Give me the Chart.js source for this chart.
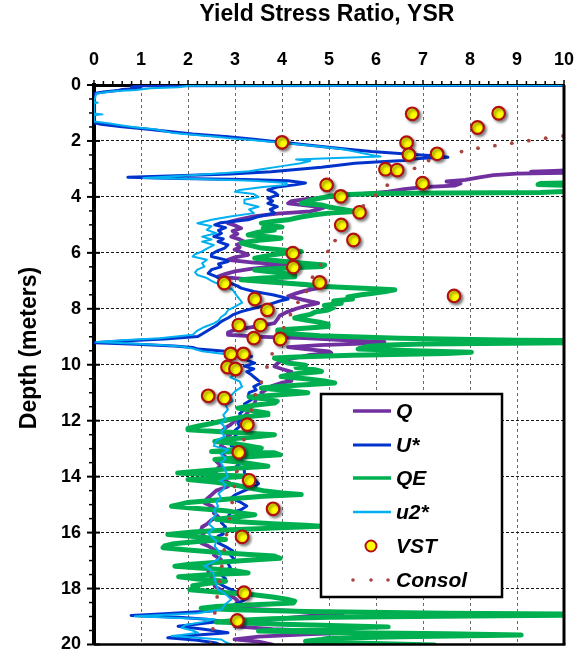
<!DOCTYPE html>
<html>
<head>
<meta charset="utf-8">
<script src="https://cdn.jsdelivr.net/npm/chart.js@4.4.1/dist/chart.umd.min.js"></script>
<style>
  html, body { margin: 0; padding: 0; background: #fff; }
  #wrap { width: 580px; height: 653px; }
</style>
</head>
<body>
<div id="wrap"><canvas id="ysrChart" width="580" height="653"></canvas></div>
<script>
// Yield stress ratio profiles vs depth (m)

const xTicks = [0, 1, 2, 3, 4, 5, 6, 7, 8, 9, 10];
const yTicks = [0, 2, 4, 6, 8, 10, 12, 14, 16, 18, 20];

// Q (purple)
const qDepth = [0, 2.95, 3.02, 3.07, 3.10, 3.13, 3.17, 3.22, 3.30, 3.39, 3.45, 3.52, 3.60, 3.65, 3.72, 3.81, 3.88, 3.95, 4.00, 4.08,
  4.15, 4.23, 4.30, 4.38, 4.45, 4.52, 4.60, 4.70, 4.80, 4.88, 4.94, 5.02, 5.12, 5.22, 5.32, 5.42, 5.52, 5.60, 5.70, 5.80,
  5.89, 5.98, 6.07, 6.16, 6.25, 6.35, 6.43, 6.50, 6.58, 6.66, 6.75, 6.85, 6.95, 7.05, 7.15, 7.26, 7.35, 7.45, 7.55, 7.62,
  7.70, 7.80, 7.90, 8.00, 8.12, 8.25, 8.38, 8.51, 8.62, 8.75, 8.85, 8.93, 9.00, 9.05, 9.12, 9.18, 9.23, 9.30, 9.37, 9.44,
  9.52, 9.58, 9.65, 9.75, 9.85, 9.95, 10.06, 10.15, 10.25, 10.35, 10.42, 10.50, 10.58, 10.65, 10.75, 10.85, 11.00, 11.10, 11.20, 11.37,
  11.50, 11.62, 11.75, 11.85, 12.00, 12.15, 12.25, 12.38, 12.50, 12.62, 12.75, 12.90, 13.00, 13.15, 13.30, 13.45, 13.60, 13.75, 13.87, 14.00,
  14.15, 14.25, 14.35, 14.50, 14.65, 14.80, 14.94, 15.05, 15.20, 15.30, 15.42, 15.55, 15.70, 15.80, 15.90, 16.00, 16.10, 16.20, 16.37, 16.50,
  16.65, 16.80, 16.96, 17.10, 17.25, 17.44, 17.60, 17.75, 17.92, 18.05, 18.20, 18.35, 18.45, 18.60, 18.72, 18.82, 18.88, 18.93, 18.98, 19.05,
  19.15, 19.25, 19.35, 19.45, 19.52, 19.58, 19.64, 19.72, 19.82, 19.90, 20.00];
const qVal = [14, 12, 10.5, 9.8, 9.3, 10.2, 9.0, 8.5, 8.2, 7.9, 7.5, 7.8, 7.67, 7.0, 6.6, 6.26, 5.8, 5.3, 5.1, 4.5,
  4.2, 4.13, 4.5, 4.9, 4.77, 4.6, 3.9, 3.4, 3.1, 2.9, 2.85, 3.0, 3.13, 2.95, 3.05, 2.92, 3.1, 3.2, 3.05, 3.1,
  2.99, 3.15, 3.28, 3.0, 2.85, 3.4, 4.27, 3.7, 3.3, 3.0, 2.8, 2.64, 3.3, 4.0, 4.5, 4.77, 4.5, 4.3, 4.13, 4.3,
  4.5, 4.77, 4.5, 4.3, 4.1, 3.95, 3.9, 3.84, 3.5, 3.0, 2.85, 2.85, 3.6, 4.48, 5.3, 6.18, 6.0, 4.8, 4.13, 4.5,
  5.0, 5.05, 4.6, 4.3, 4.0, 3.9, 3.84, 4.0, 4.2, 4.1, 4.27, 4.1, 4.2, 3.98, 3.8, 3.7, 3.56, 3.6, 3.45, 3.42,
  3.35, 3.3, 3.25, 3.2, 3.0, 2.9, 2.8, 2.71, 2.9, 2.8, 2.75, 2.7, 2.8, 2.71, 2.8, 2.6, 2.7, 2.6, 2.57, 2.7,
  2.8, 2.9, 2.85, 2.6, 2.5, 2.4, 2.35, 2.5, 2.6, 2.55, 2.64, 2.5, 2.4, 2.3, 2.28, 2.35, 2.3, 2.4, 2.28, 2.45,
  2.6, 2.55, 2.7, 2.5, 2.45, 2.43, 2.5, 2.55, 2.57, 2.7, 2.85, 3.0, 3.06, 3.0, 3.2, 4.5, 5.3, 5.26, 4.6, 4.13,
  3.6, 3.2, 3.0, 3.8, 5.0, 5.4, 4.5, 3.5, 2.99, 3.5, 3.8];

// U* (dark blue)
const uDepth = [0, 0.03, 0.07, 0.12, 0.16, 0.20, 0.25, 0.30, 1.35, 1.40, 1.49, 1.57, 1.67, 1.75, 1.85, 1.94, 2.02, 2.10, 2.20, 2.30,
  2.38, 2.45, 2.50, 2.55, 2.58, 2.62, 2.66, 2.70, 2.75, 2.80, 2.87, 2.94, 3.02, 3.10, 3.18, 3.25, 3.30, 3.34, 3.38, 3.42,
  3.50, 3.57, 3.65, 3.75, 3.85, 3.93, 4.05, 4.15, 4.23, 4.35, 4.45, 4.58, 4.70, 4.82, 4.92, 5.00, 5.10, 5.20, 5.30, 5.42,
  5.50, 5.60, 5.72, 5.83, 5.95, 6.05, 6.13, 6.25, 6.31, 6.40, 6.50, 6.60, 6.73, 6.85, 6.96, 7.08, 7.18, 7.26, 7.38, 7.50,
  7.58, 7.65, 7.72, 7.86, 7.98, 8.10, 8.22, 8.33, 8.45, 8.60, 8.75, 8.90, 8.99, 9.08, 9.15, 9.21, 9.27, 9.33, 9.38, 9.44,
  9.52, 9.60, 9.70, 9.80, 9.94, 10.05, 10.15, 10.25, 10.36, 10.50, 10.65, 10.78, 10.90, 11.00, 11.13, 11.25, 11.40, 11.50, 11.60, 11.75,
  11.90, 12.08, 12.20, 12.35, 12.45, 12.56, 12.70, 12.80, 12.90, 13.02, 13.15, 13.30, 13.45, 13.60, 13.75, 13.87, 14.00, 14.15, 14.25, 14.35,
  14.50, 14.65, 14.76, 14.90, 15.05, 15.18, 15.30, 15.45, 15.55, 15.65, 15.80, 15.95, 16.05, 16.13, 16.25, 16.37, 16.50, 16.65, 16.80, 16.96,
  17.10, 17.25, 17.38, 17.50, 17.65, 17.80, 17.95, 18.10, 18.20, 18.33, 18.50, 18.65, 18.80, 18.90, 18.96, 19.03, 19.10, 19.17, 19.25, 19.35,
  19.45, 19.52, 19.58, 19.66, 19.72, 19.76, 19.85, 19.95, 20.03];
const uVal = [14, 1.0, 0.8, 1.0, 0.6, 0.5, 0.2, 0.0, 0.0, 0.15, 0.6, 1.1, 1.65, 2.1, 2.85, 3.4, 3.84, 4.3, 4.84, 5.4,
  5.9, 6.5, 6.96, 7.4, 7.53, 7.0, 6.7, 6.6, 6.0, 5.55, 5.2, 4.84, 4.3, 3.77, 2.9, 1.6, 0.72, 1.8, 3.2, 4.13,
  4.5, 4.27, 3.9, 3.7, 3.85, 3.91, 3.7, 3.8, 3.7, 3.9, 3.75, 3.84, 3.5, 3.28, 2.7, 2.57, 2.8, 2.65, 2.71, 2.55,
  2.75, 2.64, 2.85, 2.78, 2.6, 2.5, 2.5, 2.8, 2.85, 2.65, 2.7, 2.5, 2.43, 2.6, 2.71, 2.9, 3.05, 3.13, 3.4, 3.8,
  4.0, 4.13, 3.95, 3.7, 3.4, 3.13, 2.95, 2.85, 2.71, 2.6, 2.45, 2.3, 2.21, 1.5, 0.6, 0.02, 0.9, 1.7, 2.1, 2.21,
  2.8, 3.2, 3.35, 3.2, 3.42, 3.2, 3.4, 3.25, 3.35, 3.45, 3.56, 3.4, 3.45, 3.3, 3.28, 3.35, 3.2, 3.25, 3.2, 3.1,
  3.15, 3.06, 3.1, 3.0, 3.05, 3.0, 2.9, 2.95, 2.92, 3.1, 3.2, 3.1, 3.15, 3.05, 3.2, 3.2, 3.35, 3.45, 3.5, 3.42,
  3.2, 3.0, 2.92, 3.1, 3.25, 3.13, 2.9, 2.85, 2.75, 2.71, 2.8, 2.7, 2.75, 2.64, 2.7, 2.64, 2.8, 2.95, 2.9, 2.99,
  2.85, 2.9, 2.78, 2.7, 2.8, 2.64, 2.8, 3.0, 3.1, 3.28, 3.1, 2.9, 2.5, 1.5, 0.79, 1.8, 2.4, 2.71, 2.3, 1.79,
  2.3, 2.6, 2.85, 2.2, 1.8, 1.57, 2.2, 2.6, 2.71];

// QE (green)
const qeDepth = [0, 3.40, 3.48, 3.52, 3.56, 3.60, 3.66, 3.78, 3.84, 3.86, 3.88, 3.92, 3.98, 4.05, 4.12, 4.18, 4.23, 4.29, 4.36, 4.45,
  4.52, 4.58, 4.64, 4.72, 4.82, 4.88, 4.94, 5.00, 5.08, 5.12, 5.18, 5.26, 5.36, 5.42, 5.48, 5.55, 5.65, 5.72, 5.83, 5.90,
  5.95, 6.02, 6.10, 6.19, 6.28, 6.36, 6.43, 6.49, 6.55, 6.61, 6.70, 6.78, 6.85, 6.90, 6.96, 7.05, 7.13, 7.20, 7.26, 7.32,
  7.38, 7.45, 7.50, 7.58, 7.65, 7.72, 7.80, 7.88, 7.95, 8.04, 8.12, 8.20, 8.27, 8.33, 8.40, 8.48, 8.55, 8.63, 8.70, 8.76,
  8.81, 8.88, 8.96, 9.05, 9.12, 9.17, 9.22, 9.26, 9.29, 9.35, 9.44, 9.50, 9.55, 9.60, 9.66, 9.72, 9.76, 9.85, 9.94, 10.02,
  10.10, 10.18, 10.24, 10.32, 10.42, 10.50, 10.58, 10.65, 10.72, 10.78, 10.83, 10.92, 11.00, 11.08, 11.15, 11.22, 11.30, 11.37, 11.45, 11.55,
  11.65, 11.73, 11.79, 11.88, 11.95, 12.02, 12.10, 12.20, 12.28, 12.32, 12.40, 12.50, 12.58, 12.66, 12.74, 12.82, 12.90, 12.98, 13.05, 13.10,
  13.15, 13.22, 13.30, 13.39, 13.50, 13.63, 13.70, 13.78, 13.87, 13.94, 13.99, 14.05, 14.10, 14.20, 14.30, 14.40, 14.50, 14.58, 14.64, 14.70,
  14.78, 14.85, 14.92, 15.00, 15.06, 15.14, 15.22, 15.30, 15.36, 15.45, 15.52, 15.60, 15.68, 15.74, 15.77, 15.84, 15.90, 15.98, 16.07, 16.15,
  16.25, 16.32, 16.40, 16.48, 16.54, 16.62, 16.70, 16.78, 16.84, 16.92, 17.00, 17.08, 17.14, 17.20, 17.28, 17.36, 17.44, 17.50, 17.58, 17.66,
  17.74, 17.82, 17.90, 17.98, 18.04, 18.12, 18.22, 18.30, 18.38, 18.45, 18.52, 18.58, 18.64, 18.70, 18.76, 18.82, 18.88, 18.93, 18.98, 19.03,
  19.08, 19.14, 19.20, 19.28, 19.37, 19.45, 19.52, 19.58, 19.62, 19.66, 19.72, 19.78, 19.82, 19.88, 19.95, 20.02];
const qeVal = [14, 12, 10.5, 9.5, 9.45, 10.3, 11, 10.5, 9.5, 7.5, 6.0, 5.3, 5.0, 4.8, 4.6, 4.5, 4.41, 4.84, 5.0, 5.3,
  5.55, 5.0, 4.7, 4.4, 4.13, 3.8, 3.56, 3.7, 4.0, 3.6, 3.84, 3.5, 3.28, 3.7, 3.98, 3.5, 3.13, 3.3, 3.56, 4.0,
  4.41, 4.0, 3.7, 3.42, 3.9, 4.4, 4.91, 4.85, 4.0, 3.42, 3.9, 4.27, 4.27, 3.6, 3.13, 3.8, 4.5, 4.91, 5.6, 6.4,
  6.2, 5.9, 5.69, 5.4, 5.5, 5.1, 5.26, 4.9, 5.1, 4.98, 4.7, 4.6, 4.4, 4.27, 4.5, 4.8, 4.98, 4.98, 4.4, 3.91,
  3.91, 4.1, 4.8, 6.5, 9.0, 12, 9.5, 7.0, 6.26, 5.8, 5.62, 6.8, 8.03, 7.5, 5.5, 4.3, 3.84, 4.0, 4.13, 4.5,
  4.3, 4.7, 4.84, 4.3, 3.98, 4.5, 4.9, 5.12, 4.4, 3.9, 3.56, 4.1, 4.55, 3.9, 3.3, 3.6, 3.9, 3.84, 3.4, 3.06,
  3.4, 3.7, 3.7, 3.1, 2.9, 2.71, 2.5, 2.2, 2.0, 2.0, 2.8, 3.84, 3.4, 2.8, 2.57, 3.0, 3.3, 3.56, 2.9, 2.5,
  3.84, 3.96, 3.2, 2.57, 3.2, 3.7, 3.0, 2.4, 1.78, 2.6, 3.28, 2.6, 2.0, 2.6, 3.0, 3.3, 3.6, 4.0, 4.41, 3.6,
  3.0, 2.5, 2.0, 1.8, 1.65, 2.2, 2.8, 3.1, 3.42, 3.0, 2.6, 3.0, 3.8, 4.5, 4.84, 3.8, 2.9, 2.1, 1.57, 2.2,
  2.8, 2.2, 1.7, 1.5, 1.47, 2.0, 2.6, 3.3, 3.84, 3.96, 3.2, 2.5, 2.0, 1.72, 2.4, 3.0, 3.28, 2.5, 1.8, 2.2,
  2.8, 2.4, 2.1, 2.21, 2.04, 2.6, 3.4, 3.8, 4.1, 4.27, 4.24, 3.4, 2.6, 2.28, 3.0, 4.5, 7.5, 12, 8, 5.0,
  3.77, 3.0, 2.6, 4.0, 6.26, 4.5, 3.5, 5.5, 7.5, 9.09, 6.5, 5.0, 4.84, 4.5, 5.5, 7.25];

// u2* (light blue)
const u2Depth = [0, 0.03, 0.08, 0.12, 0.18, 0.22, 0.30, 0.60, 0.63, 0.66, 1.02, 1.05, 1.08, 1.30, 1.37, 1.45, 1.52, 1.58, 1.65, 1.72,
  1.78, 1.85, 1.90, 1.96, 2.02, 2.10, 2.20, 2.30, 2.40, 2.50, 2.56, 2.62, 2.66, 2.72, 2.80, 2.90, 3.00, 3.08, 3.15, 3.25,
  3.32, 3.36, 3.42, 3.50, 3.57, 3.65, 3.75, 3.82, 3.90, 4.00, 4.10, 4.23, 4.35, 4.45, 4.58, 4.70, 4.82, 4.94, 5.05, 5.18,
  5.30, 5.42, 5.52, 5.60, 5.72, 5.85, 5.95, 6.05, 6.13, 6.25, 6.37, 6.49, 6.60, 6.70, 6.79, 6.90, 7.00, 7.08, 7.20, 7.32,
  7.44, 7.56, 7.66, 7.78, 7.92, 8.05, 8.18, 8.30, 8.42, 8.52, 8.65, 8.78, 8.93, 9.05, 9.12, 9.19, 9.24, 9.30, 9.36, 9.42,
  9.52, 9.64, 9.76, 9.90, 10.05, 10.18, 10.30, 10.45, 10.60, 10.78, 10.95, 11.13, 11.30, 11.45, 11.60, 11.80, 11.95, 12.08, 12.25, 12.40,
  12.56, 12.72, 12.90, 13.04, 13.20, 13.35, 13.50, 13.65, 13.80, 13.99, 14.15, 14.30, 14.46, 14.60, 14.75, 14.90, 15.06, 15.20, 15.35, 15.54,
  15.70, 15.85, 16.01, 16.15, 16.30, 16.49, 16.65, 16.80, 16.96, 17.08, 17.20, 17.35, 17.50, 17.68, 17.85, 18.04, 18.20, 18.39, 18.55, 18.75,
  18.88, 18.99, 19.05, 19.10, 19.20, 19.30, 19.40, 19.50, 19.58, 19.65, 19.70, 19.76, 19.82, 19.92, 20.00];
const u2Val = [14, 2.0, 1.8, 1.2, 0.9, 0.4, 0.05, 0.0, 0.08, 0.0, 0.0, 0.18, 0.0, 0.0, 0.3, 0.6, 0.9, 1.3, 1.5, 1.7,
  2.1, 2.6, 2.9, 3.3, 3.7, 4.2, 4.8, 5.3, 5.6, 5.9, 6.1, 5.0, 4.3, 4.6, 4.4, 4.0, 3.6, 3.3, 2.8, 1.8,
  1.05, 2.2, 3.4, 4.1, 4.1, 3.6, 3.1, 3.0, 3.4, 3.5, 3.2, 3.2, 3.5, 3.3, 3.4, 2.9, 2.5, 2.2, 2.5, 2.4,
  2.6, 2.3, 2.5, 2.3, 2.55, 2.4, 2.3, 2.15, 2.1, 2.4, 2.3, 2.35, 2.2, 2.15, 2.2, 2.4, 2.5, 2.6, 2.8, 2.95,
  3.0, 3.05, 3.1, 3.15, 3.0, 2.85, 2.8, 2.7, 2.65, 2.55, 2.35, 2.2, 2.1, 1.4, 0.6, 0.05, 0.8, 1.5, 1.9, 2.1,
  2.3, 2.9, 3.0, 2.85, 2.9, 3.0, 3.05, 2.9, 3.1, 3.15, 3.0, 2.9, 2.95, 2.8, 2.85, 2.75, 2.8, 2.7, 2.8, 2.7,
  2.78, 2.6, 2.55, 2.85, 2.7, 2.8, 2.7, 2.75, 2.8, 2.85, 2.7, 2.8, 2.75, 2.65, 2.7, 2.6, 2.64, 2.55, 2.6, 2.5,
  2.45, 2.55, 2.43, 2.5, 2.6, 2.57, 2.65, 2.7, 2.64, 2.5, 2.35, 2.5, 2.55, 2.57, 2.6, 2.64, 2.8, 2.92, 2.8, 2.71,
  2.2, 0.87, 1.8, 2.57, 2.3, 1.95, 1.86, 2.1, 2.21, 1.9, 1.65, 2.2, 2.71, 2.8, 2.92];

// VST (vane shear tests)
const vstDepth = [1.03, 1.01, 1.52, 2.05, 2.06, 2.49, 2.46, 3.01, 3.04, 3.51, 3.57, 3.98, 4.55, 5.00, 5.54, 6.01, 6.51, 7.08, 7.06, 7.54,
  7.65, 8.04, 8.58, 8.58, 9.05, 9.08, 9.61, 9.61, 10.08, 10.15, 11.11, 11.19, 12.14, 13.13, 14.13, 15.15, 16.15, 18.15, 19.14];
const vstVal = [6.77, 8.61, 8.16, 4.00, 6.65, 6.70, 7.30, 6.20, 6.45, 6.99, 4.95, 5.25, 5.65, 5.26, 5.52, 4.23, 4.24, 2.77, 4.80, 7.66,
  3.42, 3.69, 3.08, 3.54, 3.40, 3.96, 2.91, 3.18, 2.84, 3.01, 2.43, 2.77, 3.26, 3.08, 3.30, 3.81, 3.15, 3.19, 3.05];

// Consolidation tests
const consolDepth = [1.82, 1.90, 1.99, 2.08, 2.17, 2.26, 2.38, 2.70, 2.98, 3.58, 3.94, 4.32, 5.56, 5.95, 6.43, 6.87, 7.38, 7.77, 8.21, 8.67,
  9.61, 10.08, 10.62, 11.07, 11.62, 12.68, 13.81, 14.35, 14.92, 15.50, 16.07, 16.62, 17.20, 17.74, 18.30, 18.87, 19.44, 19.96];
const consolVal = [9.98, 9.61, 9.25, 8.89, 8.53, 8.17, 7.82, 7.12, 6.82, 6.24, 5.99, 5.73, 5.13, 4.98, 4.82, 4.65, 4.52, 4.34, 4.18, 4.04,
  3.79, 3.68, 3.56, 3.43, 3.35, 3.19, 3.04, 2.99, 2.94, 2.88, 2.82, 2.77, 2.72, 2.67, 2.62, 2.57, 2.53, 2.48];

const FONT = "'Liberation Sans', Arial, sans-serif";
const C_Q = '#7030A0', C_U = '#0033CC', C_QE = '#00B050', C_U2 = '#00B0F0';
const C_VST_FILL = '#FFFF00', C_VST_EDGE = '#B01010', C_CONSOL = '#A8443E';

function toPoints(depths, values) {
  return depths.map((d, i) => ({ x: values[i], y: d }));
}

function profile(label, depths, values, color, width, order) {
  return {
    label, order,
    data: toPoints(depths, values),
    showLine: true,
    borderColor: color,
    borderWidth: width,
    borderJoinStyle: 'round',
    borderCapStyle: 'round',
    pointRadius: 0,
    tension: 0
  };
}

// axes decoration, titles and legend box
const frame = {
  id: 'frame',
  beforeDatasetDraw(chart, args) {
    if (chart.data.datasets[args.index].label === 'VST') {
      const ctx = chart.ctx;
      ctx.save();
      ctx.shadowColor = 'rgba(0,0,0,0.45)';
      ctx.shadowBlur = 3;
      ctx.shadowOffsetX = 2;
      ctx.shadowOffsetY = 2;
    }
  },
  afterDatasetDraw(chart, args) {
    if (chart.data.datasets[args.index].label === 'VST') chart.ctx.restore();
  },
  afterDraw(chart) {
    const ctx = chart.ctx;
    const { left, right, top, bottom } = chart.chartArea;
    const xs = chart.scales.x, ys = chart.scales.y;
    ctx.save();
    ctx.strokeStyle = '#000';

    // top minor ticks
    ctx.lineWidth = 1.5;
    for (let i = 0; i <= 50; i++) {
      const px = xs.getPixelForValue(i * 0.2);
      ctx.beginPath();
      ctx.moveTo(px, top);
      ctx.lineTo(px, top - (i % 5 === 0 ? 5 : 4));
      ctx.stroke();
    }
    // left ticks
    for (let i = 0; i <= 40; i++) {
      const py = ys.getPixelForValue(i * 0.5);
      ctx.beginPath();
      if (i % 4 === 0) {
        ctx.lineWidth = 2;
        ctx.moveTo(left - 7, py);
        ctx.lineTo(left + 6, py);
      } else {
        ctx.lineWidth = 1.5;
        ctx.moveTo(left - 5, py);
        ctx.lineTo(left, py);
      }
      ctx.stroke();
    }
    // right and bottom frame
    ctx.lineWidth = 3;
    ctx.beginPath();
    ctx.moveTo(right, top);
    ctx.lineTo(right, bottom);
    ctx.stroke();
    ctx.lineWidth = 2.5;
    ctx.beginPath();
    ctx.moveTo(left, bottom);
    ctx.lineTo(right + 1.5, bottom);
    ctx.stroke();

    // titles
    ctx.fillStyle = '#000';
    ctx.font = 'bold 23px ' + FONT;
    ctx.textAlign = 'center';
    ctx.textBaseline = 'middle';
    ctx.fillText('Yield Stress Ratio, YSR', 327, 15);
    ctx.save();
    ctx.translate(30, 348);
    ctx.rotate(-Math.PI / 2);
    ctx.fillText('Depth (meters)', 0, 0);
    ctx.restore();

    // legend
    const bx = 321, by = 394, bw = 181, bh = 203;
    ctx.fillStyle = '#fff';
    ctx.fillRect(bx, by, bw, bh);
    ctx.lineWidth = 2.5;
    ctx.strokeRect(bx, by, bw, bh);
    const rows = [
      { text: 'Q', color: C_Q, w: 3.5, y: 411 },
      { text: 'U*', color: C_U, w: 3.2, y: 445 },
      { text: 'QE', color: C_QE, w: 3.5, y: 478 },
      { text: 'u2*', color: C_U2, w: 2.5, y: 512 }
    ];
    ctx.font = 'italic bold 21px ' + FONT;
    ctx.textAlign = 'left';
    rows.forEach(r => {
      ctx.strokeStyle = r.color;
      ctx.lineWidth = r.w;
      ctx.beginPath();
      ctx.moveTo(353, r.y);
      ctx.lineTo(391, r.y);
      ctx.stroke();
      ctx.fillStyle = '#000';
      ctx.fillText(r.text, 396, r.y + 1);
    });
    ctx.beginPath();
    ctx.arc(371, 546, 5.5, 0, Math.PI * 2);
    ctx.fillStyle = C_VST_FILL;
    ctx.fill();
    ctx.strokeStyle = C_VST_EDGE;
    ctx.lineWidth = 2;
    ctx.stroke();
    ctx.fillStyle = '#000';
    ctx.fillText('VST', 396, 547);
    ctx.fillStyle = C_CONSOL;
    [353, 371, 388].forEach(x => {
      ctx.beginPath();
      ctx.arc(x, 580, 1.8, 0, Math.PI * 2);
      ctx.fill();
    });
    ctx.fillStyle = '#000';
    ctx.fillText('Consol', 396, 581);
    ctx.restore();
  }
};

const ctx = document.getElementById('ysrChart').getContext('2d');
new Chart(ctx, {
  type: 'scatter',
  data: {
    datasets: [
      profile('Q', qDepth, qVal, C_Q, 3.8, 6),
      profile('U*', uDepth, uVal, C_U, 3, 5),
      profile('QE', qeDepth, qeVal, C_QE, 5, 4),
      profile('u2*', u2Depth, u2Val, C_U2, 2, 3),
      {
        label: 'VST', order: 2,
        data: toPoints(vstDepth, vstVal),
        pointRadius: 6.3,
        pointBackgroundColor: C_VST_FILL,
        pointBorderColor: C_VST_EDGE,
        pointBorderWidth: 2.2
      },
      {
        label: 'Consol', order: 1,
        data: toPoints(consolDepth, consolVal),
        pointRadius: 1.9,
        pointBorderWidth: 0,
        pointBackgroundColor: C_CONSOL
      }
    ]
  },
  options: {
    responsive: false,
    animation: false,
    devicePixelRatio: 1,
    layout: { padding: { left: 0, top: 0, right: 16, bottom: 8 } },
    plugins: { legend: { display: false }, tooltip: { enabled: false } },
    scales: {
      x: {
        type: 'linear', position: 'top', min: 0, max: 10,
        afterBuildTicks: s => { s.ticks = xTicks.map(v => ({ value: v })); },
        ticks: { padding: 0, color: '#000', font: { family: FONT, size: 18, weight: 'bold', lineHeight: 1 } },
        grid: { color: '#6a6a6a', lineWidth: 1, drawTicks: true, tickLength: 16, tickColor: 'rgba(0,0,0,0)' },
        border: { display: true, color: '#000', width: 3, dash: [3, 3] },
        afterFit: s => { s.height = 85; }
      },
      y: {
        type: 'linear', reverse: true, min: 0, max: 20,
        afterBuildTicks: s => { s.ticks = yTicks.map(v => ({ value: v })); },
        ticks: { padding: 0, color: '#000', font: { family: FONT, size: 18, weight: 'bold', lineHeight: 0.85 } },
        grid: { color: '#1a1a1a', lineWidth: 1, drawTicks: true, tickLength: 13, tickColor: 'rgba(0,0,0,0)' },
        border: { display: true, color: '#000', width: 4, dash: [3, 2] },
        afterFit: s => { s.width = 94; }
      }
    }
  },
  plugins: [frame]
});
</script>
</body>
</html>
